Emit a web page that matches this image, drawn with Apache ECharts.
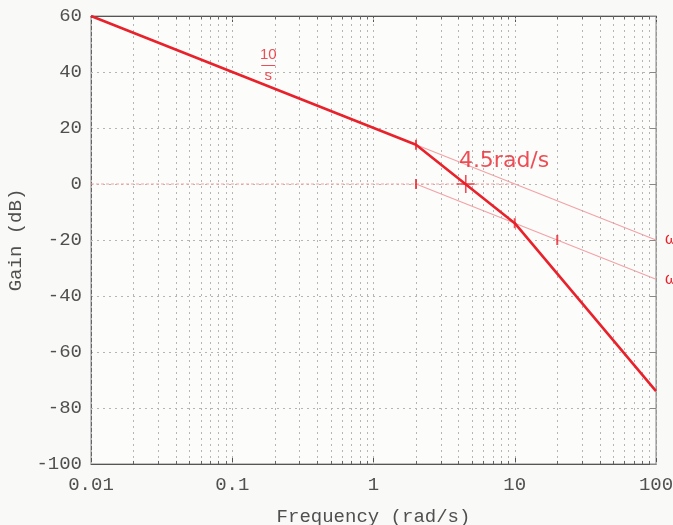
<!DOCTYPE html>
<html>
<head>
<meta charset="utf-8">
<script src="https://cdn.jsdelivr.net/npm/echarts@6/dist/echarts.min.js"></script>
<style>
  html, body { margin: 0; padding: 0; background: #f9f9f7; }
  #chart { width: 673px; height: 525px; }
</style>
</head>
<body>
<div id="chart"></div>
<script>
// asymptotic bode magnitude
const asymFreq = [0.01, 2, 10, 100];
const asymGain = [60, 14, -14, -74];
// faint construction lines
const upperFreq = [2, 100];
const upperGain = [14, -20];
const lowerFreq = [2, 100];
const lowerGain = [0, -34];
const zeroFreq = [0.01, 10];
const zeroGain = [0, 0];
// small hand-drawn tick marks on the lines
const markFreq = [2, 2, 10, 20];
const markGain = [14, 0, -14, -20];
// crossover point
const crossFreq = [4.5];
const crossGain = [0];

const xTicks = [0.01, 0.1, 1, 10, 100];
const xTickLabels = ['0.01', '0.1', '1', '10', '100'];
const yTicks = [-100, -80, -60, -40, -20, 0, 20, 40, 60];
const minorMult = [2, 3, 4, 5, 6, 7, 8, 9];

const pairs = (xs, ys) => xs.map((x, i) => [x, ys[i]]);

let minorFreq = [];
xTicks.slice(0, -1).forEach(d => minorMult.forEach(m => minorFreq.push(+(d * m).toPrecision(3))));

const gridColor = '#b5b5b5';
const red = '#e8212b';
const faint = '#f2a3a6';
const monoFont = '"Liberation Mono", "DejaVu Sans Mono", monospace';

// dotted vertical grid at every decade and minor decade step, plus short ticks
let vGrid = [];
xTicks.concat(minorFreq).forEach(v => {
    vGrid.push([{ coord: [v, -100] }, { coord: [v, 60] }]);
});
let minorTicks = [];
minorFreq.forEach(v => {
    minorTicks.push([{ coord: [v, -100] }, { coord: [v, -98.9] }]);
    minorTicks.push([{ coord: [v, 60] }, { coord: [v, 58.9] }]);
});

let chart = echarts.init(document.getElementById('chart'));

let option = {
    backgroundColor: '#f9f9f7',
    animation: false,
    grid: {
        left: 91, right: 17, top: 16, bottom: 61,
        containLabel: false, outerBoundsMode: 'none',
        show: true, borderColor: '#8a8a8a', borderWidth: 1, backgroundColor: '#fcfcfb'
    },
    xAxis: [
        {
            type: 'log', logBase: 10, min: 0.01, max: 100, interval: 1,
            name: 'Frequency (rad/s)', nameLocation: 'middle', nameGap: 43,
            nameTextStyle: { fontFamily: monoFont, fontSize: 19, color: '#505050' },
            axisLine: { show: true, onZero: false, lineStyle: { color: '#555' } },
            axisTick: { show: true, inside: true, length: 6, lineStyle: { color: '#555' } },
            axisLabel: {
                fontFamily: monoFont, fontSize: 19, color: '#505050', margin: 11,
                formatter: function (v) {
                    let i = xTicks.findIndex(t => Math.abs(Math.log10(t) - Math.log10(v)) < 1e-6);
                    return i >= 0 ? xTickLabels[i] : '';
                }
            },
            splitLine: { show: false }
        },
        {
            type: 'log', logBase: 10, min: 0.01, max: 100, interval: 1, position: 'top',
            axisLine: { show: true, onZero: false, lineStyle: { color: '#555' } },
            axisTick: { show: true, inside: true, length: 6, lineStyle: { color: '#555' } },
            axisLabel: { show: false },
            splitLine: { show: false }
        }
    ],
    yAxis: [
        {
            type: 'value', min: -100, max: 60, interval: 20,
            name: 'Gain (dB)', nameLocation: 'middle', nameGap: 62, nameRotate: 90,
            nameTextStyle: { fontFamily: monoFont, fontSize: 19, color: '#505050' },
            axisLine: { show: true, onZero: false, lineStyle: { color: '#666' } },
            axisTick: { show: false },
            axisLabel: { fontFamily: monoFont, fontSize: 19, color: '#505050', margin: 9 },
            splitLine: { show: true, lineStyle: { color: gridColor, type: [2, 4], width: 1 } }
        },
        {
            type: 'value', min: -100, max: 60, interval: 20, position: 'right',
            axisLine: { show: true, onZero: false, lineStyle: { color: '#999' } },
            axisTick: { show: true, inside: true, length: 6, lineStyle: { color: '#888' } },
            axisLabel: { show: false },
            splitLine: { show: false }
        }
    ],
    series: [
        {
            // grid + minor ticks helper
            type: 'line', data: [], silent: true,
            markLine: {
                silent: true, symbol: 'none', label: { show: false },
                lineStyle: { color: gridColor, type: [2, 4], width: 1 },
                data: vGrid
            }
        },
        {
            type: 'line', data: [], silent: true,
            markLine: {
                silent: true, symbol: 'none', label: { show: false },
                lineStyle: { color: '#666', type: 'solid', width: 1 },
                data: minorTicks
            }
        },
        {
            name: 'zero', type: 'line', data: pairs(zeroFreq, zeroGain),
            symbol: 'none', lineStyle: { color: faint, width: 1.2, type: [3, 2] }
        },
        {
            name: 'upper', type: 'line', data: pairs(upperFreq, upperGain),
            symbol: 'none', lineStyle: { color: faint, width: 1.2 },
            endLabel: { show: true, formatter: 'ω', color: red, fontSize: 16, distance: 9 }
        },
        {
            name: 'lower', type: 'line', data: pairs(lowerFreq, lowerGain),
            symbol: 'none', lineStyle: { color: faint, width: 1.2 },
            endLabel: { show: true, formatter: 'ω', color: red, fontSize: 16, distance: 9 }
        },
        {
            name: 'asymptote', type: 'line', data: pairs(asymFreq, asymGain),
            symbol: 'none', lineStyle: { color: red, width: 2.6 }, z: 5
        },
        {
            name: 'marks', type: 'scatter', data: pairs(markFreq, markGain),
            symbol: 'rect', symbolSize: [2, 10], itemStyle: { color: red }, z: 6
        },
        {
            name: 'cross', type: 'scatter', data: pairs(crossFreq, crossGain),
            symbol: 'path://M0,7.3h16v1.4h-16z M7.3,0h1.4v16h-1.4z', symbolSize: 18,
            itemStyle: { color: red }, z: 6
        },
        {
            // hand-written notes
            name: 'notes', type: 'scatter', symbolSize: 0, z: 7,
            data: [
                {
                    value: [8.4, 8.2],
                    label: {
                        show: true, position: 'inside', formatter: '4.5rad/s',
                        color: red, fontSize: 22, fontFamily: '"DejaVu Sans", sans-serif'
                    }
                },
                {
                    value: [0.18, 42.5],
                    label: {
                        show: true, position: 'inside', formatter: '{a|10}\n{b|—}\n{a|s}',
                        color: red,
                        rich: {
                            a: { fontSize: 15, color: red, lineHeight: 13, align: 'center' },
                            b: { fontSize: 14, color: red, lineHeight: 8, align: 'center' }
                        }
                    }
                }
            ]
        }
    ]
};

chart.setOption(option);
</script>
</body>
</html>
